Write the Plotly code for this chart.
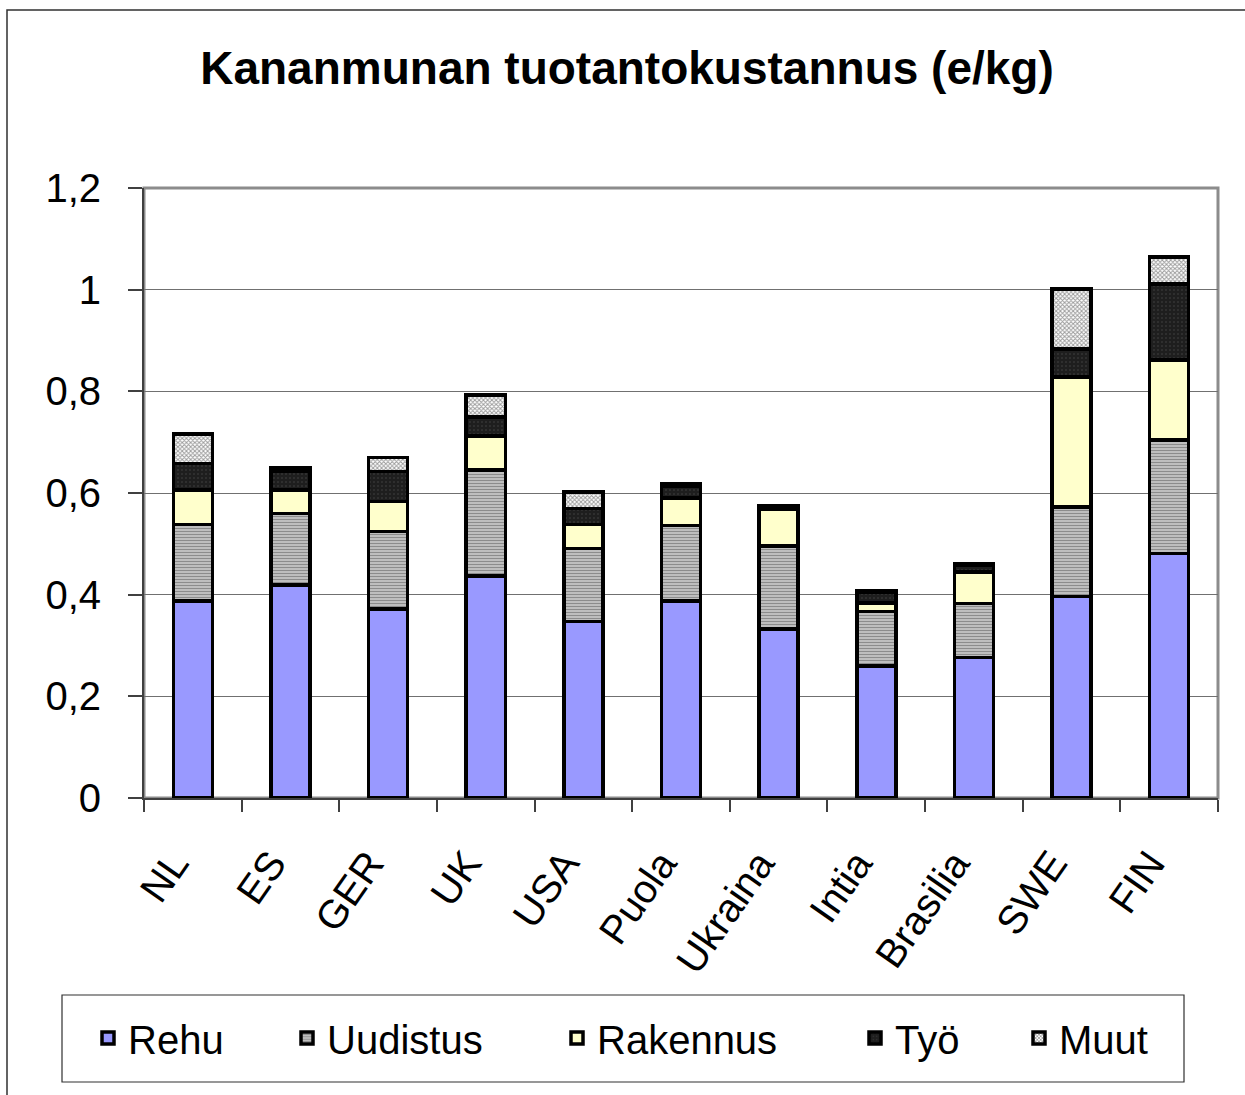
import plotly.graph_objects as go

# ---- data ----
countries = ["NL", "ES", "GER", "UK", "USA", "Puola", "Ukraina", "Intia", "Brasilia", "SWE", "FIN"]
rehu      = [0.388, 0.419, 0.372, 0.437, 0.347, 0.388, 0.332, 0.260, 0.276, 0.396, 0.481]
uudistus  = [0.150, 0.141, 0.152, 0.208, 0.144, 0.148, 0.164, 0.107, 0.107, 0.176, 0.223]
rakennus  = [0.068, 0.046, 0.059, 0.067, 0.047, 0.054, 0.072, 0.017, 0.062, 0.256, 0.158]
tyo       = [0.052, 0.036, 0.059, 0.038, 0.032, 0.024, 0.006, 0.020, 0.013, 0.055, 0.149]
muut      = [0.058, 0.007, 0.028, 0.043, 0.032, 0.004, 0.000, 0.004, 0.002, 0.118, 0.053]
y_ticks   = [0, 0.2, 0.4, 0.6, 0.8, 1.0, 1.2]

FONT = "Liberation Sans, Arial, sans-serif"
W, H = 1245, 1095
L, R, T, B = 144, 1218, 188, 798
PW, PH = R - L, B - T

def px_x(x):
    return (x - L) / PW

def px_y(y):
    return (B - y) / PH

series = [
    ("Rehu", rehu, dict(color="#9999FF"), 154),
    ("Uudistus", uudistus, dict(color="#b0b0b0", pattern=dict(shape="-", fgcolor="#505050", bgcolor="#c8c8c8", size=3, solidity=0.45)), 225),
    ("Rakennus", rakennus, dict(color="#FFFFCC"), 253),
    ("Työ", tyo, dict(color="#1e1e1e", pattern=dict(shape=".", fgcolor="#6a6a6a", bgcolor="#1e1e1e", size=4, solidity=0.12)), 119),
    ("Muut", muut, dict(color="#ffffff", pattern=dict(shape="x", fgcolor="#3a3a3a", bgcolor="#ffffff", size=3, solidity=0.55)), 110),
]

fig = go.Figure()
for name, vals, mk, lw in series:
    marker = dict(mk)
    marker["line"] = dict(color="#000000", width=3.5)
    fig.add_trace(go.Bar(name=name, x=countries, y=vals, marker=marker, legendwidth=lw))

fig.update_layout(
    width=W, height=H,
    barmode="stack",
    bargap=0.6,
    separators=", ",
    plot_bgcolor="#ffffff",
    paper_bgcolor="#ffffff",
    margin=dict(l=L, r=W - R, t=T, b=H - B, pad=0),
    font=dict(family=FONT, color="#000000", size=40),
    title=dict(
        text="<b>Kananmunan tuotantokustannus (e/kg)</b>",
        font=dict(family=FONT, size=46, color="#000000"),
        x=627 / W, xanchor="center", xref="container",
        y=1 - 68 / H, yanchor="middle", yref="container",
    ),
    legend=dict(
        orientation="h",
        traceorder="normal",
        x=px_x(88), xanchor="left",
        y=px_y(1038), yanchor="middle",
        font=dict(family=FONT, size=40, color="#000000"),
        bgcolor="rgba(0,0,0,0)",
        borderwidth=0,
    ),
    xaxis=dict(
        type="category",
        showgrid=False,
        showline=True, linecolor="#404040", linewidth=2,
        ticks="outside", tickson="boundaries", ticklen=12, tickcolor="#404040", tickwidth=1.5,
        tickangle=-55,
        tickfont=dict(family=FONT, size=40, color="#000000"),
        ticklabelstandoff=24,
        ticklabelshift=-19,
    ),
    yaxis=dict(
        range=[0, 1.2],
        tickvals=y_ticks,
        showgrid=True, gridcolor="#707070", gridwidth=1,
        zeroline=False,
        showline=True, linecolor="#404040", linewidth=2,
        ticks="outside", ticklen=14, tickcolor="#404040", tickwidth=1.5,
        tickfont=dict(family=FONT, size=40, color="#000000"),
        ticklabelstandoff=19,
    ),
    shapes=[
        # outer chart frame (runs past the right and bottom edges)
        dict(type="rect", xref="paper", yref="paper",
             x0=px_x(7), x1=px_x(1300), y0=px_y(1150), y1=px_y(10),
             line=dict(color="#303030", width=1.5), fillcolor="rgba(0,0,0,0)", layer="below"),
        # plot area frame (grey top / right edges)
        dict(type="rect", xref="paper", yref="paper", x0=0, x1=1, y0=0, y1=1,
             line=dict(color="#8c8c8c", width=3), fillcolor="rgba(0,0,0,0)", layer="below"),
        # legend box
        dict(type="rect", xref="paper", yref="paper",
             x0=px_x(62), x1=px_x(1184), y0=px_y(1082), y1=px_y(995),
             line=dict(color="#303030", width=1.2), fillcolor="rgba(0,0,0,0)", layer="below"),
    ],
)

fig.write_html("out.html", config={"displayModeBar": False},
               post_script="document.body.style.margin='0';")
